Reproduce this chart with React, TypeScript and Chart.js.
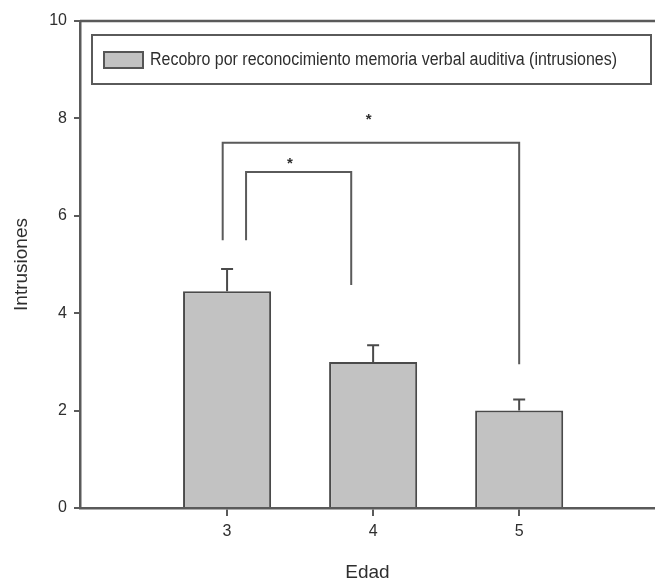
import React, { useEffect, useRef } from "react";
import { Chart, registerables } from "chart.js";

Chart.register(...registerables);

// Age groups and mean recognition-recall intrusions
const ages = [3, 4, 5];
const meanIntrusions = [4.45, 3.0, 2.0];
const errorUpper = [0.46, 0.34, 0.23];
const yTickValues = [0, 2, 4, 6, 8, 10];
const seriesLabel = "Recobro por reconocimiento memoria verbal auditiva (intrusiones)";

// Significance brackets in data units: [x1, x2, yTop, leftLegBottom, rightLegBottom, starX, starY]
const bracketOuter = [2.97, 5.0, 7.5, 5.5, 2.95, 3.97, 8.05];
const bracketInner = [3.13, 3.85, 6.9, 5.5, 4.58, 3.43, 7.15];
const brackets = [bracketOuter, bracketInner];

const FONT = '"Liberation Sans", Arial, sans-serif';
const INK = "#2e2e2e";
const LINE = "#5a5a5a";

const overlayPlugin = {
  id: "overlay",
  afterDatasetsDraw(chart: any) {
    const { ctx, chartArea, scales } = chart;
    const xs = scales.x;
    const ys = scales.y;
    ctx.save();

    // top frame line
    ctx.strokeStyle = LINE;
    ctx.lineWidth = 2.5;
    ctx.beginPath();
    ctx.moveTo(chartArea.left, chartArea.top);
    ctx.lineTo(chartArea.right, chartArea.top);
    ctx.stroke();

    // error bars (upper whisker only)
    ctx.strokeStyle = "#4a4a4a";
    ctx.lineWidth = 2;
    ages.forEach((a, i) => {
      const px = xs.getPixelForValue(a);
      const y0 = ys.getPixelForValue(meanIntrusions[i]);
      const y1 = ys.getPixelForValue(meanIntrusions[i] + errorUpper[i]);
      ctx.beginPath();
      ctx.moveTo(px, y0);
      ctx.lineTo(px, y1);
      ctx.moveTo(px - 6, y1);
      ctx.lineTo(px + 6, y1);
      ctx.stroke();
    });

    // significance brackets
    ctx.strokeStyle = LINE;
    ctx.lineWidth = 2;
    brackets.forEach((b) => {
      const [x1, x2, yt, yl, yr, sx, sy] = b;
      const px1 = xs.getPixelForValue(x1);
      const px2 = xs.getPixelForValue(x2);
      const pyt = ys.getPixelForValue(yt);
      ctx.beginPath();
      ctx.moveTo(px1, ys.getPixelForValue(yl));
      ctx.lineTo(px1, pyt);
      ctx.lineTo(px2, pyt);
      ctx.lineTo(px2, ys.getPixelForValue(yr));
      ctx.stroke();
      ctx.fillStyle = INK;
      ctx.font = `bold 15px ${FONT}`;
      ctx.textAlign = "center";
      ctx.textBaseline = "middle";
      ctx.fillText("*", xs.getPixelForValue(sx), ys.getPixelForValue(sy) + 4);
    });

    // legend box
    const lx = chartArea.left + 12;
    const ly = chartArea.top + 14;
    const lw = chartArea.right - 4 - lx;
    const lh = 49;
    ctx.strokeStyle = LINE;
    ctx.lineWidth = 2;
    ctx.fillStyle = "#ffffff";
    ctx.fillRect(lx, ly, lw, lh);
    ctx.strokeRect(lx, ly, lw, lh);
    ctx.fillStyle = "#c2c2c2";
    ctx.fillRect(lx + 12, ly + 17, 39, 16);
    ctx.strokeStyle = "#555555";
    ctx.strokeRect(lx + 12, ly + 17, 39, 16);
    ctx.fillStyle = INK;
    ctx.font = `18px ${FONT}`;
    ctx.textAlign = "left";
    ctx.textBaseline = "middle";
    const tx = lx + 58;
    const target = 467;
    const w = ctx.measureText(seriesLabel).width;
    ctx.save();
    ctx.translate(tx, ly + 25);
    ctx.scale(target / w, 1);
    ctx.fillText(seriesLabel, 0, 0);
    ctx.restore();

    ctx.restore();
  },
};

export default function App() {
  const ref = useRef<HTMLCanvasElement | null>(null);

  useEffect(() => {
    if (!ref.current) return;
    const chart = new Chart(ref.current, {
      type: "bar",
      data: {
        datasets: [
          {
            label: seriesLabel,
            data: ages.map((a, i) => ({ x: a, y: meanIntrusions[i] })),
            backgroundColor: "#c2c2c2",
            borderColor: "#4a4a4a",
            borderWidth: 2,
            categoryPercentage: 1,
            barPercentage: 0.603,
          },
        ],
      },
      options: {
        animation: false,
        responsive: false,
        maintainAspectRatio: false,
        layout: { padding: { top: 21, left: 0, right: 0, bottom: 0 } },
        plugins: { legend: { display: false }, tooltip: { enabled: false } },
        scales: {
          x: {
            type: "linear",
            offset: false,
            min: 1.993,
            max: 5.93,
            afterBuildTicks(scale: any) {
              scale.ticks = ages.map((v) => ({ value: v }));
            },
            afterFit(scale: any) {
              scale.height = 76;
            },
            grid: {
              display: true,
              offset: false,
              drawOnChartArea: false,
              drawTicks: true,
              tickLength: 8,
              color: LINE,
              lineWidth: 2,
            },
            border: { display: true, color: LINE, width: 2.5 },
            ticks: {
              color: INK,
              font: { family: FONT, size: 16 },
              padding: 6,
              callback: (v: any) => String(v),
            },
            title: {
              display: true,
              text: "Edad",
              color: INK,
              font: { family: FONT, size: 19 },
              padding: { top: 10, bottom: 0 },
            },
          },
          y: {
            type: "linear",
            min: 0,
            max: 10,
            afterBuildTicks(scale: any) {
              scale.ticks = yTickValues.map((v) => ({ value: v }));
            },
            afterFit(scale: any) {
              scale.width = 80;
            },
            grid: {
              display: true,
              drawOnChartArea: false,
              drawTicks: true,
              tickLength: 6,
              color: LINE,
              lineWidth: 2,
            },
            border: { display: true, color: LINE, width: 2.5 },
            ticks: {
              color: INK,
              font: { family: FONT, size: 16 },
              padding: 7,
            },
            title: {
              display: true,
              text: "Intrusiones",
              color: INK,
              font: { family: FONT, size: 19 },
              padding: { top: 10, bottom: 2 },
            },
          },
        },
      },
      plugins: [overlayPlugin],
    });
    return () => chart.destroy();
  }, []);

  return (
    <div style={{ position: "fixed", left: 0, top: 0, width: 655, height: 584, background: "#fff" }}>
      <canvas ref={ref} width={655} height={584} style={{ display: "block" }} />
    </div>
  );
}
